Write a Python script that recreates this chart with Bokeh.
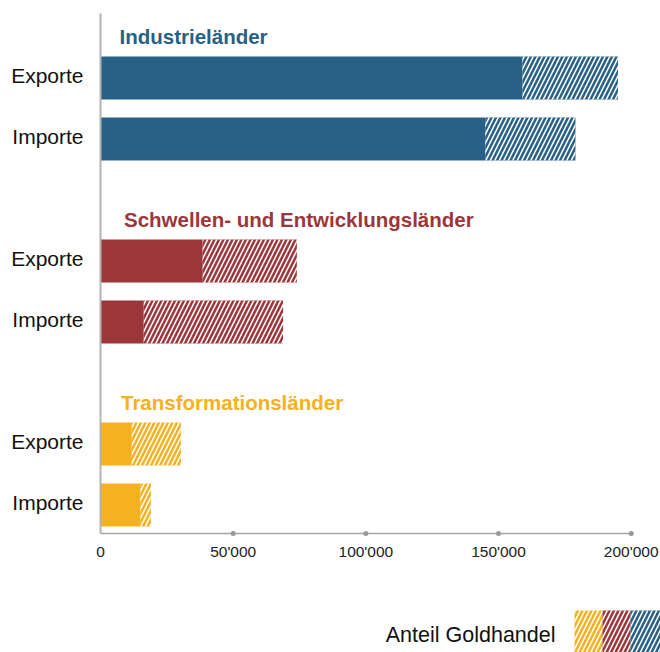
from bokeh.plotting import figure
from bokeh.models import Range1d, ColumnDataSource
from bokeh.embed import file_html
from bokeh.resources import INLINE
from bokeh.core.properties import value

# ---- data ----
groups = ["Industrieländer", "Schwellen- und Entwicklungsländer", "Transformationsländer"]
rows = ["Exporte", "Importe"]
group_colors = ["#286086", "#9c363a", "#f5b120"]
ohne_gold = [[159000, 145000], [38500, 16300], [11800, 15000]]   # solid part
gold = [[36000, 34000], [35500, 52500], [18500, 4000]]           # hatched part (Goldhandel)
x_ticks = [0, 50000, 100000, 150000, 200000]
x_labels = ["0", "50'000", "100'000", "150'000", "200'000"]
legend_label = "Anteil Goldhandel"

FONT = "Liberation Sans"

# ---- layout helpers (canvas pixel -> data) ----
W, H = 660, 652
X0 = 100.0                # canvas x of value 0
K = 530.7 / 200000        # px per unit
ROW0 = 77.5               # canvas y of first row centre
PITCH = 61.0              # px per row


def px2x(px):
    return (px - X0) / K


def py2y(py):
    return (py - ROW0) / PITCH


# ---- derived table ----
ys, solid, total, cols, labels = [], [], [], [], []
for g, name in enumerate(groups):
    for r, rname in enumerate(rows):
        y = g * (len(rows) + 1) + r
        ys.append(y)
        solid.append(ohne_gold[g][r])
        total.append(ohne_gold[g][r] + gold[g][r])
        cols.append(group_colors[g])
        labels.append(rname)
src = ColumnDataSource(dict(y=ys, solid=solid, total=total, color=cols, label=labels,
                            label_y=[y - 2.5 / PITCH for y in ys]))

title_dx = [19, 23.5, 20.5]
tsrc = ColumnDataSource(dict(x=[0] * len(groups),
                             y=[g * (len(rows) + 1) - 0.687 for g in range(len(groups))],
                             text=groups, color=group_colors, dx=title_dx))

AXIS_Y = py2y(533)

p = figure(width=W, height=H, min_border=0,
           x_range=Range1d(px2x(0), px2x(W)), y_range=Range1d(py2y(H), py2y(0)),
           x_axis_location=None, y_axis_location=None,
           output_backend="svg", toolbar_location=None)
p.outline_line_color = None
p.grid.visible = False
p.background_fill_color = "white"
p.border_fill_color = "white"

# bars
p.hbar(y="y", left=0, right="solid", height=0.705, fill_color="color",
       line_color=None, source=src)
p.hbar(y="y", left="solid", right="total", height=0.705, fill_color="color",
       line_color=None, hatch_pattern="/", hatch_color="white",
       hatch_weight=1.6, hatch_scale=9, source=src)

# axis lines & tick dots
p.segment(x0=[0], y0=[py2y(13)], x1=[0], y1=[AXIS_Y], line_color="#b3b3b3", line_width=2)
p.segment(x0=[x_ticks[0]], y0=[AXIS_Y], x1=[x_ticks[-1]], y1=[AXIS_Y],
          line_color="#a6a6a6", line_width=1.5)
p.scatter(x=x_ticks[1:], y=[AXIS_Y] * (len(x_ticks) - 1), size=5,
          fill_color="#999999", line_color=None)

# x tick labels
p.text(x=x_ticks, y=[py2y(551)] * len(x_ticks), text=x_labels, text_align="center",
       text_baseline="middle", text_font=value(FONT), text_font_size="15.5px",
       text_color="#222222")

# row labels
p.text(x=0, y="label_y", text="label", x_offset=-17, text_align="right",
       text_baseline="middle", text_font=value(FONT), text_font_size="21px",
       text_color="#111111", source=src)

# group titles
p.text(x="x", y="y", text="text", text_color="color", x_offset="dx",
       text_font=value(FONT), text_font_style="bold", text_font_size="20.5px",
       text_baseline="middle", text_align="left", source=tsrc)

# legend (swatches ordered yellow, red, blue)
legend_colors = list(reversed(group_colors))
sw_edges = [574, 602, 630, 660]
p.quad(left=[px2x(v) for v in sw_edges[:-1]], right=[px2x(v) for v in sw_edges[1:]],
       top=[py2y(610)] * 3, bottom=[py2y(652)] * 3,
       fill_color=legend_colors, line_color=None, hatch_pattern="/",
       hatch_color="white", hatch_weight=1.6, hatch_scale=9)
p.text(x=[px2x(555)], y=[py2y(634)], text=[legend_label], text_align="right",
       text_baseline="middle", text_font=value(FONT), text_font_size="21.5px",
       text_color="#111111")

open("out.html", "w").write(file_html(p, INLINE))
